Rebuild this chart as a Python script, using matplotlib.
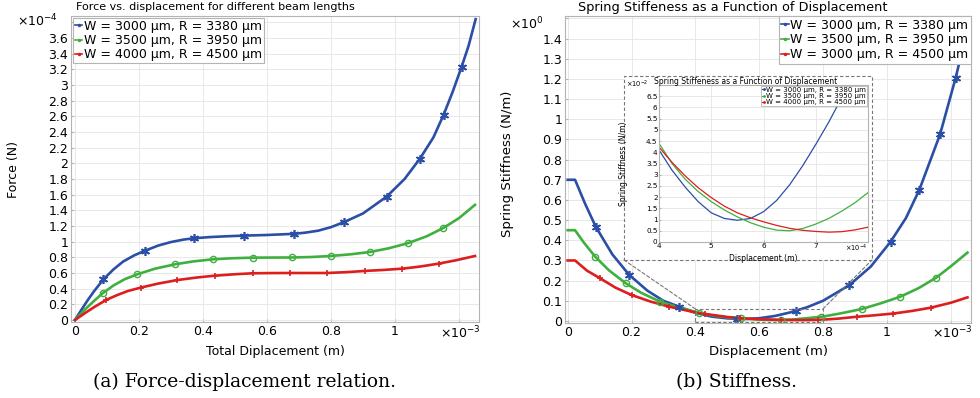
import matplotlib
matplotlib.use("Agg")
import matplotlib.pyplot as plt
from matplotlib.patches import Rectangle, ConnectionPatch
from matplotlib.lines import Line2D
from matplotlib.ticker import MultipleLocator, FuncFormatter

plt.rcParams['font.family'] = ['DejaVu Sans']
plt.rcParams['mathtext.fontset'] = 'dejavusans'

# colours
BLUE = '#2b4ea6'
GREEN = '#3fb03f'
RED = '#dc1e1e'
GRID = '#e4e4e4'
SPINE = '#b4b4b4'

labels_a = ['W = 3000 μm, R = 3380 μm', 'W = 3500 μm, R = 3950 μm', 'W = 4000 μm, R = 4500 μm']
labels_b = ['W = 3000 μm, R = 3380 μm', 'W = 3500 μm, R = 3950 μm', 'W = 3000 μm, R = 4500 μm']

# ---- (a) force vs displacement  (x in 1e-3 m, y in 1e-4 N)
fa_blue_x = [0, 0.02, 0.04, 0.06, 0.089, 0.12, 0.15, 0.185, 0.219, 0.26, 0.3, 0.34, 0.372, 0.42, 0.47,
             0.528, 0.6, 0.685, 0.72, 0.76, 0.8, 0.841, 0.9, 0.974, 1.03, 1.078, 1.12, 1.152, 1.18, 1.208,
             1.23, 1.252]
fa_blue_y = [0, 0.13, 0.255, 0.37, 0.52, 0.645, 0.745, 0.825, 0.885, 0.95, 0.995, 1.027, 1.043, 1.058,
             1.068, 1.077, 1.085, 1.10, 1.115, 1.14, 1.185, 1.25, 1.36, 1.575, 1.80, 2.06, 2.33, 2.62,
             2.91, 3.23, 3.5, 3.84]
fa_green_x = [0, 0.03, 0.06, 0.086, 0.12, 0.155, 0.195, 0.25, 0.3125, 0.37, 0.432, 0.49, 0.555, 0.62,
              0.678, 0.74, 0.799, 0.86, 0.922, 0.98, 1.04, 1.1, 1.151, 1.2, 1.25]
fa_green_y = [0, 0.13, 0.245, 0.34, 0.44, 0.52, 0.584, 0.655, 0.711, 0.748, 0.775, 0.788, 0.796, 0.797,
              0.798, 0.804, 0.817, 0.838, 0.868, 0.915, 0.98, 1.07, 1.175, 1.30, 1.47]
fa_red_x = [0, 0.03, 0.06, 0.097, 0.13, 0.165, 0.205, 0.26, 0.32, 0.38, 0.4375, 0.5, 0.555, 0.61, 0.672,
            0.73, 0.788, 0.85, 0.905, 0.96, 1.022, 1.08, 1.137, 1.19, 1.25]
fa_red_y = [0, 0.085, 0.165, 0.255, 0.315, 0.37, 0.413, 0.465, 0.51, 0.542, 0.566, 0.584, 0.596, 0.599,
            0.60, 0.60, 0.60, 0.611, 0.626, 0.638, 0.655, 0.683, 0.72, 0.762, 0.817]

ma_blue_x = [0.089, 0.219, 0.372, 0.528, 0.685, 0.841, 0.974, 1.078, 1.152, 1.208]
ma_blue_y = [0.52, 0.885, 1.043, 1.077, 1.10, 1.25, 1.575, 2.06, 2.62, 3.23]
ma_green_x = [0.086, 0.195, 0.3125, 0.432, 0.555, 0.678, 0.799, 0.922, 1.04, 1.151]
ma_green_y = [0.34, 0.584, 0.711, 0.775, 0.796, 0.798, 0.817, 0.868, 0.98, 1.175]
ma_red_x = [0.097, 0.205, 0.32, 0.4375, 0.555, 0.672, 0.788, 0.905, 1.022, 1.137]
ma_red_y = [0.255, 0.413, 0.51, 0.566, 0.596, 0.60, 0.60, 0.626, 0.655, 0.72]

# ---- (b) stiffness vs displacement (x in 1e-3 m, y in N/m)
kb_blue_x = [0, 0.023, 0.054, 0.088, 0.14, 0.193, 0.25, 0.3, 0.349, 0.4, 0.45, 0.5, 0.55, 0.6, 0.65,
             0.7, 0.75, 0.8, 0.883, 0.95, 1.012, 1.06, 1.102, 1.167, 1.216, 1.25]
kb_blue_y = [0.70, 0.70, 0.583, 0.467, 0.33, 0.228, 0.15, 0.10, 0.071, 0.041, 0.022, 0.013, 0.0097,
             0.0135, 0.025, 0.0435, 0.068, 0.10, 0.178, 0.27, 0.393, 0.51, 0.65, 0.925, 1.206, 1.43]
kb_green_x = [0, 0.023, 0.05, 0.086, 0.13, 0.182, 0.23, 0.289, 0.35, 0.413, 0.45, 0.5, 0.55, 0.6, 0.65,
              0.7, 0.75, 0.8, 0.85, 0.921, 0.98, 1.042, 1.1, 1.155, 1.2, 1.253]
kb_green_y = [0.45, 0.45, 0.39, 0.319, 0.25, 0.187, 0.14, 0.096, 0.066, 0.0405, 0.028, 0.018, 0.0112,
              0.0066, 0.005, 0.0065, 0.0138, 0.022, 0.036, 0.059, 0.087, 0.12, 0.163, 0.215, 0.27, 0.339]
kb_red_x = [0, 0.023, 0.06, 0.101, 0.15, 0.2, 0.26, 0.318, 0.37, 0.4, 0.43, 0.5, 0.55, 0.6, 0.65, 0.7,
            0.75, 0.8, 0.85, 0.906, 0.96, 1.021, 1.08, 1.138, 1.2, 1.253]
kb_red_y = [0.30, 0.30, 0.25, 0.212, 0.165, 0.129, 0.096, 0.071, 0.053, 0.0423, 0.035, 0.0198, 0.013,
            0.009, 0.0061, 0.0047, 0.0046, 0.0066, 0.012, 0.021, 0.028, 0.037, 0.05, 0.066, 0.09, 0.117]

mb_blue_x = [0.088, 0.193, 0.349, 0.532, 0.716, 0.883, 1.012, 1.102, 1.167, 1.216]
mb_blue_y = [0.467, 0.228, 0.071, 0.008, 0.051, 0.178, 0.393, 0.65, 0.925, 1.206]
mb_green_x = [0.086, 0.182, 0.289, 0.413, 0.542, 0.669, 0.794, 0.921, 1.042, 1.155]
mb_green_y = [0.319, 0.187, 0.096, 0.0405, 0.015, 0.0055, 0.022, 0.059, 0.12, 0.215]
mb_red_x = [0.101, 0.2, 0.318, 0.43, 0.54, 0.669, 0.786, 0.906, 1.021, 1.138]
mb_red_y = [0.212, 0.129, 0.071, 0.035, 0.016, 0.0055, 0.0066, 0.021, 0.037, 0.066]

# ---- inset (x in 1e-4 m, y in 1e-2 N/m)
in_x = [4.0, 4.25, 4.5, 4.75, 5.0, 5.25, 5.5, 5.75, 6.0, 6.25, 6.5, 6.75, 7.0, 7.25, 7.5, 7.75, 8.0]
in_blue = [4.1, 3.2, 2.45, 1.8, 1.3, 1.05, 0.97, 1.05, 1.35, 1.85, 2.55, 3.4, 4.35, 5.35, 6.45, 7.6, 8.8]
in_green = [4.4, 3.5, 2.8, 2.25, 1.8, 1.43, 1.12, 0.86, 0.66, 0.53, 0.5, 0.6, 0.8, 1.05, 1.38, 1.75, 2.2]
in_red = [4.23, 3.55, 2.95, 2.42, 1.98, 1.6, 1.3, 1.08, 0.9, 0.74, 0.61, 0.52, 0.47, 0.44, 0.46, 0.54, 0.66]

W, H = 980, 398
fig = plt.figure(figsize=(W / 100, H / 100), dpi=100)


def px_axes(l, t, r, b):
    return fig.add_axes([l / W, 1 - b / H, (r - l) / W, (b - t) / H])


def fmt_upto(limit):
    return FuncFormatter(lambda v, p: '' if v > limit + 1e-6 else ('%g' % round(v, 3)))


def style(ax, fs, xmax_lab, ymax_lab):
    for s in ax.spines.values():
        s.set_color(SPINE)
        s.set_linewidth(0.8)
    ax.grid(True, color=GRID, lw=0.6)
    ax.set_axisbelow(True)
    ax.tick_params(direction='in', length=2.5, color=SPINE, labelsize=fs, pad=2)
    ax.xaxis.set_major_formatter(fmt_upto(xmax_lab))
    ax.yaxis.set_major_formatter(fmt_upto(ymax_lab))


# ================= (a)
ax1 = px_axes(71, 16, 479, 322)
style(ax1, 9, 1.0, 3.6)
ax1.plot(fa_blue_x, fa_blue_y, color=BLUE, lw=1.9)
ax1.plot(fa_green_x, fa_green_y, color=GREEN, lw=1.9)
ax1.plot(fa_red_x, fa_red_y, color=RED, lw=1.9)
ax1.plot(ma_blue_x, ma_blue_y, ls='none', marker=(6, 2, 0), ms=6.5, mew=1.2, color=BLUE)
ax1.plot(ma_green_x, ma_green_y, ls='none', marker='o', ms=4.5, mfc='none', mew=1.0, color=GREEN)
ax1.plot(ma_red_x, ma_red_y, ls='none', marker='+', ms=4.5, mew=1.2, color=RED)
ax1.set_xlim(-0.0125, 1.2625)
ax1.set_ylim(-0.0255, 3.88)
ax1.xaxis.set_major_locator(MultipleLocator(0.2))
ax1.yaxis.set_major_locator(MultipleLocator(0.2))
ax1.set_xlabel('Total Diplacement (m)', fontsize=9, labelpad=0)
ax1.set_ylabel('Force (N)', fontsize=9)
ax1.yaxis.set_label_coords(-0.125, 0.5)
ax1.xaxis.set_label_coords(0.5, -0.075)
ax1.text(-0.033, 0.985, r'$\times10^{-4}$', transform=ax1.transAxes, ha='right', va='center', fontsize=9)
ax1.text(1.003, -0.037, r'$\times10^{-3}$', transform=ax1.transAxes, ha='right', va='center', fontsize=9)

h1 = [Line2D([], [], color=c, lw=1.2, marker='.', ms=3) for c in (BLUE, GREEN, RED)]
lg1 = ax1.legend(h1, labels_a, loc='upper left', fontsize=9, handlelength=0.6, handletextpad=0.15,
                 borderpad=0.15, labelspacing=0.1, borderaxespad=0.15, fancybox=False, framealpha=1)
lg1.get_frame().set_edgecolor(SPINE)
lg1.get_frame().set_linewidth(0.8)

fig.text(215 / W, 1 - 7 / H, 'Force vs. displacement for different beam lengths', ha='center', va='center',
         fontsize=8)

# ================= (b)
ax2 = px_axes(565, 16, 971, 323)
style(ax2, 9, 1.0, 1.4)
ax2.plot(kb_blue_x, kb_blue_y, color=BLUE, lw=1.9)
ax2.plot(kb_green_x, kb_green_y, color=GREEN, lw=1.9)
ax2.plot(kb_red_x, kb_red_y, color=RED, lw=1.9)
ax2.plot(mb_blue_x, mb_blue_y, ls='none', marker=(6, 2, 0), ms=6.5, mew=1.2, color=BLUE)
ax2.plot(mb_green_x, mb_green_y, ls='none', marker='o', ms=4.5, mfc='none', mew=1.0, color=GREEN)
ax2.plot(mb_red_x, mb_red_y, ls='none', marker='+', ms=4.5, mew=1.2, color=RED)
ax2.set_xlim(-0.0085, 1.264)
ax2.set_ylim(-0.01, 1.512)
ax2.xaxis.set_major_locator(MultipleLocator(0.2))
ax2.yaxis.set_major_locator(MultipleLocator(0.1))
ax2.set_xlabel('Displacement (m)', fontsize=9.5)
ax2.set_ylabel('Spring Stiffness (N/m)', fontsize=9.5)
ax2.yaxis.set_label_coords(-0.125, 0.52)
ax2.xaxis.set_label_coords(0.5, -0.072)
ax2.text(-0.054, 0.975, r'$\times10^{0}$', transform=ax2.transAxes, ha='right', va='center', fontsize=9)
ax2.text(1.003, -0.034, r'$\times10^{-3}$', transform=ax2.transAxes, ha='right', va='center', fontsize=9)

# zoom rectangle on main plot
ax2.add_patch(Rectangle((0.4, -0.005), 0.4, 0.065, fill=False, ls=(0, (3, 2)), lw=0.8, ec='#777777',
                        zorder=5))

h2 = [Line2D([], [], color=c, lw=1.2, marker='.', ms=3) for c in (BLUE, GREEN, RED)]
lg2 = ax2.legend(h2, labels_b, loc='upper right', fontsize=9, handlelength=0.6, handletextpad=0.15,
                 borderpad=0.2, labelspacing=0.15, borderaxespad=0.0, fancybox=False, framealpha=1)
lg2.get_frame().set_edgecolor(SPINE)
lg2.get_frame().set_linewidth(0.8)
lg2.set_zorder(10)

fig.text(733 / W, 1 - 7 / H, 'Spring Stiffeness as a Function of Displacement', ha='center', va='center',
         fontsize=9.3)

# ================= inset
box = px_axes(624, 76, 872, 260)
box.set_axis_off()
box.add_patch(Rectangle((0, 0), 1, 1, transform=box.transAxes, fc='white', ec='#777777', lw=0.8,
                        ls=(0, (3, 2)), clip_on=False))

for xy_main, xy_box in (((0.4, 0.06), (0, 0)), ((0.8, 0.06), (1, 0))):
    cp = ConnectionPatch(xyA=xy_main, coordsA=ax2.transData, xyB=xy_box, coordsB=box.transAxes,
                         color='#777777', lw=0.8, ls=(0, (3, 2)))
    fig.add_artist(cp)

ax3 = px_axes(659, 85, 868, 242)
style(ax3, 5.2, 7, 6.5)
ax3.tick_params(pad=1, length=1.5)
ax3.plot(in_x, in_blue, color=BLUE, lw=0.9)
ax3.plot(in_x, in_green, color=GREEN, lw=0.9)
ax3.plot(in_x, in_red, color=RED, lw=0.9)
ax3.set_xlim(4, 8)
ax3.set_ylim(0, 7)
ax3.xaxis.set_major_locator(MultipleLocator(1))
ax3.yaxis.set_major_locator(MultipleLocator(0.5))
ax3.set_xlabel('Displacement (m)', fontsize=5.5, labelpad=0)
ax3.set_ylabel('Spring Stiffness (N/m)', fontsize=5.5, labelpad=0)
ax3.yaxis.set_label_coords(-0.15, 0.5)
ax3.xaxis.set_label_coords(0.5, -0.075)
ax3.text(-0.05, 0.965, r'$\times10^{-2}$', transform=ax3.transAxes, ha='right', va='bottom', fontsize=4.8)
ax3.text(1.0, -0.04, r'$\times10^{-4}$', transform=ax3.transAxes, ha='right', va='center', fontsize=4.8)
h3 = [Line2D([], [], color=c, lw=0.8, marker='.', ms=2) for c in (BLUE, GREEN, RED)]
lg3 = ax3.legend(h3, labels_a, loc='upper right', fontsize=5, handlelength=0.5, handletextpad=0.15,
                 borderpad=0.15, labelspacing=0.05, borderaxespad=0.1, fancybox=False, framealpha=1)
lg3.get_frame().set_edgecolor(SPINE)
lg3.get_frame().set_linewidth(0.6)
fig.text(746 / W, 1 - 81 / H, 'Spring Stiffeness as a Function of Displacement', ha='center', va='center',
         fontsize=5.5)

# captions
fig.text(244 / W, 1 - 382 / H, '(a) Force-displacement relation.', ha='center', va='center',
         fontsize=13.5, family='DejaVu Serif')
fig.text(736 / W, 1 - 382 / H, '(b) Stiffness.', ha='center', va='center',
         fontsize=13.5, family='DejaVu Serif')

fig.savefig('out.png', dpi=100)
